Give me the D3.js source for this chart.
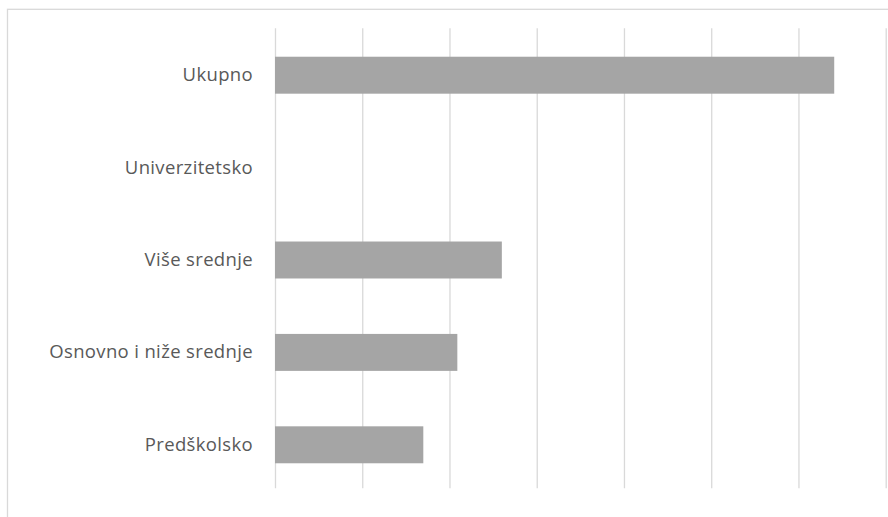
<!DOCTYPE html>
<html>
<head>
<meta charset="utf-8">
<script src="https://cdn.jsdelivr.net/npm/d3@7"></script>
<style>
  html, body { margin: 0; padding: 0; background: #fff; }
  svg { display: block; }
</style>
</head>
<body>
<div id="chart"></div>
<script>
/* =====================================================
   DATA
===================================================== */
const categories = ['Ukupno', 'Univerzitetsko', 'Više srednje', 'Osnovno i niže srednje', 'Predškolsko'];
const values = [6.41, 0, 2.6, 2.09, 1.7];
const gridTicks = [0, 1, 2, 3, 4, 5, 6, 7];

/* =====================================================
   CONFIG
===================================================== */
const CONFIG = {
  width: 888,
  height: 517,
  plotLeft: 275,
  plotRight: 885.7,
  bandTop: 29,
  bandBottom: 491,
  gridTop: 28.3,
  gridBottom: 488.3,
  barColor: '#a5a5a5',
  gridColor: '#d9d9d9',
  textColor: '#595959',
  font: '"Open Sans", "Noto Sans", sans-serif',
};

const svg = d3
  .select('#chart')
  .append('svg')
  .attr('width', CONFIG.width)
  .attr('height', CONFIG.height);

// chart area border (extends past the right and bottom edges)
svg
  .append('rect')
  .attr('x', 7.5)
  .attr('y', 9.3)
  .attr('width', CONFIG.width + 20)
  .attr('height', CONFIG.height + 20)
  .attr('fill', 'none')
  .attr('stroke', CONFIG.gridColor)
  .attr('stroke-width', 1.3);

/* =====================================================
   SCALES
===================================================== */
const x = d3
  .scaleLinear()
  .domain([0, 7])
  .range([CONFIG.plotLeft, CONFIG.plotRight]);

const y = d3
  .scaleBand()
  .domain(categories)
  .range([CONFIG.bandTop, CONFIG.bandBottom])
  .paddingInner(0.6)
  .paddingOuter(0.3);

/* =====================================================
   GRID
===================================================== */
const gridAxis = d3
  .axisBottom(x)
  .tickValues(gridTicks)
  .tickSize(-(CONFIG.gridBottom - CONFIG.gridTop))
  .tickFormat('');

svg
  .append('g')
  .attr('transform', `translate(0,${CONFIG.gridBottom})`)
  .call(gridAxis)
  .call((g) => g.select('.domain').remove())
  .call((g) =>
    g.selectAll('.tick line')
      .attr('stroke', CONFIG.gridColor)
      .attr('stroke-width', 1.3)
  );

/* =====================================================
   BARS
===================================================== */
svg
  .append('g')
  .selectAll('rect')
  .data(categories)
  .enter()
  .append('rect')
  .attr('x', x(0))
  .attr('y', (d) => y(d))
  .attr('width', (d, i) => x(values[i]) - x(0))
  .attr('height', y.bandwidth())
  .attr('fill', CONFIG.barColor);

/* =====================================================
   CATEGORY LABELS
===================================================== */
const yAxis = d3.axisLeft(y).tickSize(0).tickPadding(22);

svg
  .append('g')
  .attr('transform', `translate(${CONFIG.plotLeft},0)`)
  .call(yAxis)
  .call((g) => g.select('.domain').remove())
  .call((g) =>
    g.selectAll('text')
      .attr('fill', CONFIG.textColor)
      .style('font-family', CONFIG.font)
      .style('font-size', '18.5px')
      .style('letter-spacing', '0.35px')
  );
</script>
</body>
</html>
